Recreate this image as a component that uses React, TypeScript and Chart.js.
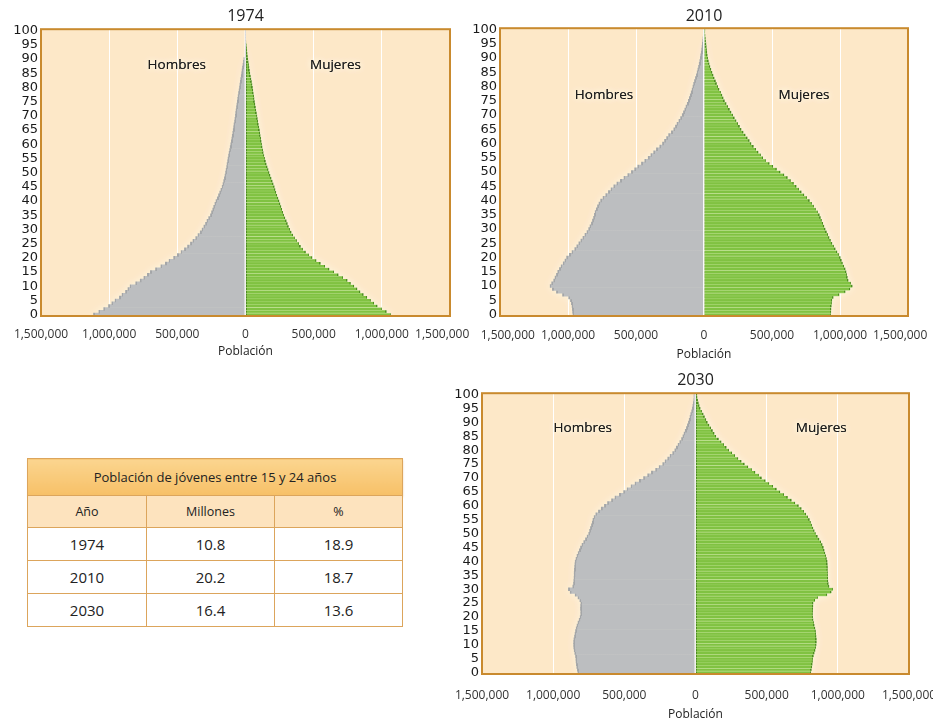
import React, { useEffect, useRef } from "react";
import { Chart, registerables } from "chart.js";

Chart.register(...registerables);

// ---------- DATA (population in thousands, ages 0..100) ----------
const AGES: string[] = Array.from({ length: 101 }, (_, i) => String(i));

const X_TICK_VALUES = [-1500000, -1000000, -500000, 0, 500000, 1000000, 1500000];

const MEN_1974 = [
  1115, 1075, 1040, 1005, 980, 956, 925, 905, 880, 862,
  846, 805, 772, 745, 720, 698, 660, 620, 588, 560,
  527, 500, 472, 448, 425, 404, 385, 365, 348, 332,
  318, 305, 293, 282, 270, 257, 249, 240, 233, 224,
  216, 207, 198, 189, 180, 171, 165, 160, 155, 150,
  146, 142, 138, 135, 131, 128, 124, 120, 116, 112,
  108, 104, 100, 97, 93, 90, 87, 84, 80, 77,
  74, 72, 69, 66, 63, 60, 57, 54, 51, 47,
  44, 41, 38, 35, 31, 28, 25, 22, 18, 15,
  12, 0, 0, 0, 0, 0, 0, 0, 0, 0, 0,
];
const WOMEN_1974 = [
  1066, 1035, 1000, 968, 943, 919, 892, 866, 842, 820,
  797, 772, 748, 715, 682, 649, 615, 583, 551, 520,
  490, 465, 442, 421, 405, 392, 377, 362, 349, 337,
  326, 317, 309, 301, 291, 282, 275, 268, 262, 255,
  248, 240, 232, 225, 219, 213, 205, 198, 190, 182,
  175, 168, 161, 154, 148, 142, 137, 132, 128, 124,
  120, 117, 114, 110, 107, 104, 100, 96, 92, 89,
  86, 82, 78, 75, 71, 68, 65, 62, 59, 56,
  53, 50, 46, 42, 38, 34, 31, 28, 25, 22,
  19, 16, 14, 12, 10, 8, 5, 0, 0, 0, 0,
];
const MEN_2010 = [
  963, 966, 968, 970, 975, 982, 995, 1040, 1085, 1115,
  1131, 1120, 1105, 1095, 1085, 1075, 1063, 1050, 1035, 1022,
  1010, 990, 970, 950, 935, 920, 905, 890, 875, 860,
  848, 838, 828, 820, 812, 806, 800, 792, 783, 772,
  760, 742, 722, 703, 683, 663, 640, 615, 588, 560,
  534, 510, 487, 460, 435, 410, 390, 370, 350, 325,
  305, 290, 275, 260, 240, 222, 210, 198, 184, 172,
  160, 151, 141, 132, 123, 115, 108, 101, 94, 87,
  81, 76, 70, 63, 56, 50, 45, 40, 35, 31,
  27, 24, 20, 17, 14, 12, 9, 7, 5, 4, 4,
];
const WOMEN_2010 = [
  933, 935, 936, 938, 940, 942, 952, 995, 1040, 1075,
  1092, 1080, 1062, 1056, 1051, 1047, 1040, 1030, 1020, 1012,
  1004, 992, 980, 967, 955, 943, 932, 922, 912, 902,
  893, 884, 875, 866, 858, 850, 837, 822, 808, 793,
  777, 757, 737, 717, 698, 680, 660, 638, 615, 590,
  562, 535, 508, 482, 455, 434, 418, 400, 383, 365,
  348, 335, 320, 305, 290, 275, 263, 250, 238, 225,
  213, 201, 189, 177, 165, 152, 143, 134, 124, 113,
  103, 94, 86, 77, 69, 61, 53, 46, 40, 34,
  29, 26, 23, 21, 19, 17, 14, 12, 10, 8, 9,
];
const MEN_2030 = [
  826, 830, 834, 837, 839, 840, 843, 848, 852, 855,
  856, 856, 854, 850, 846, 843, 838, 832, 825, 817,
  810, 806, 806, 808, 807, 805, 812, 825, 845, 880,
  893, 862, 857, 855, 853, 852, 852, 851, 849, 847,
  845, 839, 832, 824, 816, 808, 797, 785, 773, 761,
  750, 744, 738, 731, 725, 720, 712, 700, 682, 662,
  640, 618, 590, 565, 535, 505, 480, 452, 424, 395,
  365, 336, 310, 280, 255, 230, 213, 195, 178, 160,
  145, 135, 122, 110, 98, 88, 80, 72, 64, 57,
  50, 44, 38, 33, 27, 22, 18, 15, 12, 10, 10,
];
const WOMEN_2030 = [
  812, 816, 819, 822, 824, 825, 830, 836, 842, 847,
  850, 851, 851, 849, 847, 845, 841, 836, 832, 828,
  825, 824, 825, 826, 827, 828, 840, 860, 925, 955,
  965, 940, 935, 932, 931, 930, 930, 929, 929, 928,
  927, 922, 917, 911, 906, 900, 892, 882, 870, 858,
  845, 836, 827, 818, 810, 802, 790, 777, 762, 745,
  725, 700, 675, 648, 622, 595, 570, 545, 518, 492,
  465, 445, 420, 396, 370, 345, 323, 300, 278, 257,
  235, 218, 200, 182, 163, 145, 133, 121, 109, 97,
  85, 75, 65, 56, 45, 35, 28, 22, 17, 13, 12,
];

const TABLE_TITLE = "Población de jóvenes entre 15 y 24 años";
const TABLE_HEAD = ["Año", "Millones", "%"];
const TABLE_YEARS = ["1974", "2010", "2030"];
const TABLE_MILLIONS = ["10.8", "20.2", "16.4"];
const TABLE_PCT = ["18.9", "18.7", "13.6"];

// ---------- STYLE ----------
const PEACH = "#FDE8C8";
const FRAME = "#C98A2E";
const GREEN = "#80C242";
const GREEN_DARK = "#4E8C22";
const GREEN_STRIPE = "#A9D875";
const GRAY = "#BCBEC0";
const GRAY_DARK = "#A4A6A8";
const FONT = "'Open Sans', sans-serif";
const NB = "\u00A0\u00A0\u00A0\u00A0\u00A0";

type Cfg = {
  title: string;
  men: number[];
  women: number[];
  box: { left: number; top: number; width: number; height: number };
  yWidth: number;
  padRight: number;
  titlePad: { top: number; bottom: number };
  xHeight: number;
  tickLine: number;
  nudgeFirst: boolean;
  nudgeLast: boolean;
  hombres: { value: number; age: number };
  mujeres: { value: number; age: number };
};

const CHARTS: Cfg[] = [
  {
    title: "1974", men: MEN_1974, women: WOMEN_1974,
    box: { left: 0, top: 0, width: 481, height: 359 },
    yWidth: 41, padRight: 31, titlePad: { top: 7, bottom: 3 }, xHeight: 43, tickLine: 38,
    nudgeFirst: false, nudgeLast: true,
    hombres: { value: -504000, age: 88 }, mujeres: { value: 660000, age: 88 },
  },
  {
    title: "2010", men: MEN_2010, women: WOMEN_2010,
    box: { left: 470, top: 0, width: 469, height: 362 },
    yWidth: 30, padRight: 31, titlePad: { top: 7, bottom: 2 }, xHeight: 46, tickLine: 40,
    nudgeFirst: true, nudgeLast: true,
    hombres: { value: -735000, age: 77 }, mujeres: { value: 735000, age: 77 },
  },
  {
    title: "2030", men: MEN_2030, women: WOMEN_2030,
    box: { left: 440, top: 364, width: 500, height: 358 },
    yWidth: 42, padRight: 31, titlePad: { top: 6.5, bottom: 3.5 }, xHeight: 48, tickLine: 44,
    nudgeFirst: false, nudgeLast: false,
    hombres: { value: -792000, age: 88 }, mujeres: { value: 884000, age: 88 },
  },
];

function barFill(body: string, nearZero: string, farEnd: string) {
  return (c: any) => {
    if (c.type !== "data") return body;
    const chart = c.chart;
    const xs = chart.scales && chart.scales.x;
    if (!xs) return body;
    const z = xs.getPixelForValue(0);
    const e = xs.getPixelForValue(c.raw as number);
    const len = Math.abs(e - z);
    if (!isFinite(len) || len < 2.5) return farEnd;
    const g = chart.ctx.createLinearGradient(z, 0, e, 0);
    const f0 = Math.min(0.45, 1.3 / len);
    const f1 = Math.max(0.55, 1 - 1.3 / len);
    g.addColorStop(0, nearZero);
    g.addColorStop(f0, nearZero);
    g.addColorStop(Math.min(f0 + 0.001, f1), body);
    g.addColorStop(f1, body);
    g.addColorStop(Math.min(1, f1 + 0.001), farEnd);
    g.addColorStop(1, farEnd);
    return g;
  };
}

function makePlugin(cfg: Cfg) {
  return {
    id: "pyramidDecor",
    beforeDraw(chart: any) {
      const { ctx, chartArea: a } = chart;
      ctx.save();
      ctx.fillStyle = PEACH;
      ctx.fillRect(a.left, a.top, a.right - a.left, a.bottom - a.top);
      ctx.restore();
    },
    beforeDatasetsDraw(chart: any) {
      const { ctx, chartArea: a } = chart;
      ctx.save();
      ctx.beginPath();
      ctx.rect(a.left, a.top, a.right - a.left, a.bottom - a.top);
      ctx.clip();
      ctx.shadowColor = "rgba(255,252,232,1)";
      ctx.shadowBlur = 9;
      ctx.fillStyle = "rgba(255,250,228,1)";
      chart.getSortedVisibleDatasetMetas().forEach((meta: any) => {
        meta.data.forEach((el: any) => {
          const p = el.getProps(["x", "y", "base", "height"], true);
          const w = Math.abs(p.x - p.base);
          if (w > 0.5) ctx.fillRect(Math.min(p.x, p.base), p.y - p.height / 2, w, p.height);
        });
      });
      ctx.restore();
    },
    afterDatasetsDraw(chart: any) {
      const { ctx, chartArea: a, scales } = chart;
      const xs = scales.x;
      const ys = scales.y;
      ctx.save();
      const z = xs.getPixelForValue(0);
      ctx.fillStyle = "rgba(255,255,255,0.9)";
      ctx.fillRect(z - 1, a.top, 1, a.bottom - a.top);
      ctx.font = `13.5px ${FONT}`;
      ctx.textAlign = "center";
      ctx.textBaseline = "middle";
      const lbls: [string, { value: number; age: number }][] = [
        ["Hombres", cfg.hombres],
        ["Mujeres", cfg.mujeres],
      ];
      lbls.forEach(([t, pos]) => {
        const px = xs.getPixelForValue(pos.value);
        const py = ys.getPixelForValue(pos.age);
        ctx.shadowColor = "rgba(255,255,235,1)";
        ctx.shadowBlur = 6;
        ctx.fillStyle = "#1c1c1c";
        ctx.fillText(t, px, py);
        ctx.fillText(t, px, py);
      });
      ctx.shadowBlur = 0;
      ctx.strokeStyle = FRAME;
      ctx.lineWidth = 2;
      ctx.strokeRect(a.left, a.top, a.right - a.left, a.bottom - a.top);
      ctx.restore();
    },
  };
}

function Pyramid({ cfg }: { cfg: Cfg }) {
  const ref = useRef<HTMLCanvasElement | null>(null);
  useEffect(() => {
    if (!ref.current) return;
    const last = X_TICK_VALUES.length - 1;
    const chart = new Chart(ref.current, {
      type: "bar",
      data: {
        labels: AGES,
        datasets: [
          {
            label: "Hombres",
            data: cfg.men.map((v) => -v * 1000),
            backgroundColor: barFill(GRAY, GRAY, GRAY_DARK) as any,
            borderWidth: 0,
            barPercentage: 1,
            categoryPercentage: 1,
          },
          {
            label: "Mujeres",
            data: cfg.women.map((v) => v * 1000),
            backgroundColor: barFill(GREEN, GREEN_DARK, GREEN_DARK) as any,
            borderColor: GREEN_STRIPE,
            borderWidth: { top: 0, left: 0, right: 0, bottom: 0.7 } as any,
            borderSkipped: false,
            barPercentage: 1,
            categoryPercentage: 1,
          },
        ],
      },
      options: {
        indexAxis: "y",
        animation: false,
        responsive: true,
        maintainAspectRatio: false,
        layout: { padding: { left: 0, right: cfg.padRight, top: 0, bottom: 0 } },
        plugins: {
          legend: { display: false },
          tooltip: { enabled: false },
          title: {
            display: true,
            text: cfg.title,
            fullSize: false,
            color: "#222",
            font: { family: FONT, size: 16, weight: "normal" as any },
            padding: cfg.titlePad,
          },
        },
        scales: {
          x: {
            type: "linear",
            stacked: true,
            min: -1500000,
            max: 1500000,
            afterBuildTicks: (s: any) => {
              s.ticks = X_TICK_VALUES.map((v) => ({ value: v }));
            },
            afterFit: (s: any) => {
              s.height = cfg.xHeight;
              s.paddingLeft = 0;
              s.paddingRight = 0;
            },
            grid: { color: "#FFFFFF", lineWidth: 1, drawTicks: false },
            border: { display: false },
            ticks: {
              padding: 0,
              color: "#333",
              font: { family: FONT, size: 12, lineHeight: `${cfg.tickLine}px` },
              maxRotation: 0,
              autoSkip: false,
              callback: (v: any, i: number) => {
                const t = Math.abs(Number(v)).toLocaleString("en-US");
                if (i === 0 && cfg.nudgeFirst) return NB + t;
                if (i === last && cfg.nudgeLast) return t + NB;
                return t;
              },
            },
            title: {
              display: true,
              text: "Población",
              color: "#222",
              font: { family: FONT, size: 12 },
              padding: { top: 0, bottom: 0 },
            },
          },
          y: {
            type: "category",
            stacked: true,
            reverse: true,
            afterFit: (s: any) => {
              s.width = cfg.yWidth;
            },
            grid: { display: false, drawTicks: false },
            border: { display: false },
            ticks: {
              autoSkip: false,
              padding: 3,
              color: "#1a1a1a",
              font: { family: "'DejaVu Sans', sans-serif", size: 13 },
              callback: (_v: any, i: number) => (i % 5 === 0 ? AGES[i] : ""),
            },
          },
        },
      },
      plugins: [makePlugin(cfg)],
    } as any);
    return () => chart.destroy();
  }, [cfg]);
  return (
    <div
      style={{
        position: "absolute",
        left: cfg.box.left,
        top: cfg.box.top,
        width: cfg.box.width,
        height: cfg.box.height,
      }}
    >
      <canvas ref={ref} />
    </div>
  );
}

const BORDER = "1px solid #DCA55C";

function YouthTable() {
  const cell: React.CSSProperties = {
    border: BORDER,
    textAlign: "center",
    padding: 0,
    fontSize: 15,
    color: "#222",
    height: 32,
    background: "#FFFFFF",
  };
  return (
    <table
      style={{
        position: "absolute",
        left: 27,
        top: 458,
        width: 375,
        borderCollapse: "collapse",
        fontFamily: FONT,
        tableLayout: "fixed",
      }}
    >
      <colgroup>
        <col style={{ width: 119 }} />
        <col style={{ width: 128 }} />
        <col style={{ width: 128 }} />
      </colgroup>
      <thead>
        <tr>
          <th
            colSpan={3}
            style={{
              height: 36,
              padding: 0,
              fontWeight: "normal",
              fontSize: 13,
              color: "#222",
              border: BORDER,
              background: "linear-gradient(#FBD58F, #F7C067)",
              boxShadow: "0 1px 2px rgba(200,140,60,0.35)",
            }}
          >
            {TABLE_TITLE}
          </th>
        </tr>
        <tr>
          {TABLE_HEAD.map((h) => (
            <th
              key={h}
              style={{
                height: 31,
                padding: 0,
                fontWeight: "normal",
                fontSize: 12.5,
                color: "#222",
                border: BORDER,
                background: "#FDE3BE",
              }}
            >
              {h}
            </th>
          ))}
        </tr>
      </thead>
      <tbody>
        {TABLE_YEARS.map((y, i) => (
          <tr key={y}>
            <td style={cell}>{y}</td>
            <td style={cell}>{TABLE_MILLIONS[i]}</td>
            <td style={cell}>{TABLE_PCT[i]}</td>
          </tr>
        ))}
      </tbody>
    </table>
  );
}

export default function App() {
  return (
    <div
      style={{
        position: "absolute",
        left: 0,
        top: 0,
        width: 933,
        height: 722,
        overflow: "hidden",
        background: "#FFFFFF",
      }}
    >
      {CHARTS.map((c) => (
        <Pyramid key={c.title} cfg={c} />
      ))}
      <YouthTable />
    </div>
  );
}
